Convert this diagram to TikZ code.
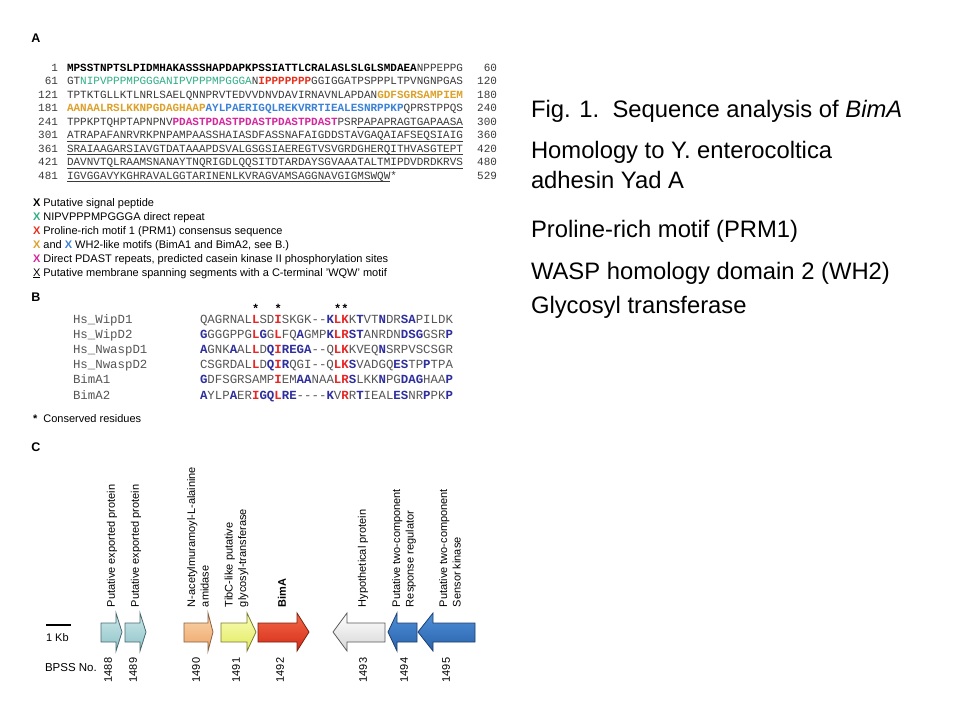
\documentclass[tikz,border=0pt]{standalone}
\usepackage{fontspec}
\setmainfont{Liberation Sans}
\newfontfamily\seqfont{Liberation Mono}
\definecolor{seqgray}{HTML}{3A3A3A}
\definecolor{seqgreen}{HTML}{2FAE86}
\definecolor{seqred}{HTML}{E8301C}
\definecolor{seqorange}{HTML}{DDA12A}
\definecolor{seqblue}{HTML}{3C82D6}
\definecolor{seqmag}{HTML}{D4279C}
\definecolor{alnblue}{HTML}{2E2E9E}
\definecolor{alnred}{HTML}{E82424}
\definecolor{alngray}{HTML}{555555}
\definecolor{gcyantop}{HTML}{CDE8EA}\definecolor{gcyanbot}{HTML}{8DC2C7}\definecolor{gcyanline}{HTML}{4A6A70}
\definecolor{gorgtop}{HTML}{FBD6AE}\definecolor{gorgbot}{HTML}{EDA466}\definecolor{gorgline}{HTML}{8A6040}
\definecolor{gyeltop}{HTML}{F9FDB8}\definecolor{gyelbot}{HTML}{E2EA5E}\definecolor{gyelline}{HTML}{7A7A30}
\definecolor{gredtop}{HTML}{F46A48}\definecolor{gredbot}{HTML}{D42A18}\definecolor{gredline}{HTML}{7A2010}
\definecolor{gwhtop}{HTML}{FFFFFF}\definecolor{gwhbot}{HTML}{D6D6D6}\definecolor{gwhline}{HTML}{5A5A5A}
\definecolor{gblutop}{HTML}{4E90DA}\definecolor{gblubot}{HTML}{2A62AA}\definecolor{gbluline}{HTML}{1E3E70}
\newcommand\seqG[1]{\textcolor{seqgreen}{#1}}
\newcommand\seqR[1]{\textcolor{seqred}{\bfseries #1}}
\newcommand\seqO[1]{\textcolor{seqorange}{\bfseries #1}}
\newcommand\seqB[1]{\textcolor{seqblue}{\bfseries #1}}
\newcommand\seqM[1]{\textcolor{seqmag}{\bfseries #1}}
\newcommand\alnB[1]{\textcolor{alnblue}{\bfseries #1}}
\newcommand\alnR[1]{\textcolor{alnred}{\bfseries #1}}
\newcommand\geneArrow[4]{\path[draw=#1line, top color=#1top, bottom color=#1bot, line width=0.8pt, line join=miter]
  (#2,623) -- (#3,623) -- (#3,613) -- (#4,632) -- (#3,651) -- (#3,642) -- (#2,642) -- cycle;}
\begin{document}
\begin{tikzpicture}[x=1pt,y=-1pt,
  every node/.style={inner sep=0pt, outer sep=0pt},
  panel/.style={font=\bfseries\fontsize{12.5}{12.5}\selectfont, anchor=center},
  seqline/.style={anchor=base west, font=\seqfont\fontsize{11}{11}\selectfont, text=seqgray},
  seqnum/.style={anchor=base east, font=\seqfont\fontsize{11}{11}\selectfont, text=seqgray},
  ulstyle/.style={draw=seqgray, line width=0.7pt},
  legend/.style={anchor=base west, font=\fontsize{11}{13}\selectfont},
  aln/.style={anchor=base west, font=\seqfont\fontsize{12.4}{12.4}\selectfont, text=alngray},
  starmark/.style={anchor=base, font=\bfseries\fontsize{12}{12}\selectfont},
  genelabel/.style={rotate=90, anchor=west, align=left, font=\fontsize{11}{13.5}\selectfont},
  genenum/.style={rotate=90, anchor=center, font=\fontsize{11}{11}\selectfont},
  righttext/.style={anchor=base west, font=\fontsize{23.8}{28}\selectfont}]
\useasboundingbox (0,0) rectangle (960,720);
\fill[white] (0,0) rectangle (960,720);

% ---------- Panel A ----------
\node[panel] (pA) at (36,38) {A};
\node[seqnum] (nl1) at (58,71.3) {1};
\node[seqnum] (nl2) at (58,84.8) {61};
\node[seqnum] (nl3) at (58,98.3) {121};
\node[seqnum] (nl4) at (58,111.8) {181};
\node[seqnum] (nl5) at (58,125.3) {241};
\node[seqnum] (nl6) at (58,138.8) {301};
\node[seqnum] (nl7) at (58,152.3) {361};
\node[seqnum] (nl8) at (58,165.8) {421};
\node[seqnum] (nl9) at (58,179.3) {481};
\node[seqline] (s1) at (67,71.3) {\textcolor{black}{\bfseries MPSSTNPTSLPIDMHAKASSSHAPDAPKPSSIATTLCRALASLSLGLSMDAEA}NPPEPPG};
\node[seqline] (s2) at (67,84.8) {GT\seqG{NIPVPPPMPGGGANIPVPPPMPGGGA}N\seqR{IPPPPPPP}GGIGGATPSPPPLTPVNGNPGAS};
\node[seqline] (s3) at (67,98.3) {TPTKTGLLKTLNRLSAELQNNPRVTEDVVDNVDAVIRNAVNLAPDAN\seqO{GDFSGRSAMPIEM}};
\node[seqline] (s4) at (67,111.8) {\seqO{AANAALRSLKKNPGDAGHAAP}\seqB{AYLPAERIGQLREKVRRTIEALESNRPPKP}QPRSTPPQS};
\node[seqline] (s5) at (67,125.3) {TPPKPTQHPTAPNPNV\seqM{PDASTPDASTPDASTPDASTPDAST}PSRPAPAPRAGTGAPAASA};
\node[seqline] (s6) at (67,138.8) {ATRAPAFANRVRKPNPAMPAASSHAIASDFASSNAFAIGDDSTAVGAQAIAFSEQSIAIG};
\node[seqline] (s7) at (67,152.3) {SRAIAAGARSIAVGTDATAAAPDSVALGSGSIAEREGTVSVGRDGHERQITHVASGTEPT};
\node[seqline] (s8) at (67,165.8) {DAVNVTQLRAAMSNANAYTNQRIGDLQQSITDTARDAYSGVAAATALTMIPDVDRDKRVS};
\node[seqline] (s9) at (67,179.3) {IGVGGAVYKGHRAVALGGTARINENLKVRAGVAMSAGGNAVGIGMSWQW*};
\node[seqnum] (nr1) at (497,71.3) {60};
\node[seqnum] (nr2) at (497,84.8) {120};
\node[seqnum] (nr3) at (497,98.3) {180};
\node[seqnum] (nr4) at (497,111.8) {240};
\node[seqnum] (nr5) at (497,125.3) {300};
\node[seqnum] (nr6) at (497,138.8) {360};
\node[seqnum] (nr7) at (497,152.3) {420};
\node[seqnum] (nr8) at (497,165.8) {480};
\node[seqnum] (nr9) at (497,179.3) {529};
\draw[ulstyle] (357.4,127.6) -- (463,127.6);
\draw[ulstyle] (67,141.1) -- (463,141.1);
\draw[ulstyle] (67,154.6) -- (463,154.6);
\draw[ulstyle] (67,168.1) -- (463,168.1);
\draw[ulstyle] (67,181.6) -- (390.4,181.6);

\node[legend] (l1) at (33,206) {\textbf{X} Putative signal peptide};
\node[legend] (l2) at (33,220) {\textcolor{seqgreen}{\textbf{X}} NIPVPPPMPGGGA direct repeat};
\node[legend] (l3) at (33,234) {\textcolor{seqred}{\textbf{X}} Proline-rich motif 1 (PRM1) consensus sequence};
\node[legend] (l4) at (33,248) {\textcolor{seqorange}{\textbf{X}} and \textcolor{seqblue}{\textbf{X}} WH2-like motifs (BimA1 and BimA2, see B.)};
\node[legend] (l5) at (33,262) {\textcolor{seqmag}{\textbf{X}} Direct PDAST repeats, predicted casein kinase II phosphorylation sites};
\node[legend] (l6) at (33,276) {\underline{X} Putative membrane spanning segments with a C-terminal 'WQW' motif};

% ---------- Panel B ----------
\node[panel] (pB) at (36,297) {B};
\node[starmark] (st1) at (255.8,312) {*};
\node[starmark] (st2) at (278.1,312) {*};
\node[starmark] (st3) at (337.6,312) {*};
\node[starmark] (st4) at (345.0,312) {*};
\node[aln] (n1) at (73,323) {Hs\_WipD1};
\node[aln] (n2) at (73,338.2) {Hs\_WipD2};
\node[aln] (n3) at (73,353.4) {Hs\_NwaspD1};
\node[aln] (n4) at (73,368.6) {Hs\_NwaspD2};
\node[aln] (n5) at (73,383.8) {BimA1};
\node[aln] (n6) at (73,399) {BimA2};
\node[aln] (a1) at (200,323) {QAGRNAL\alnR{L}SD\alnR{I}SKGK--\alnB{K}\alnR{LK}K\alnB{T}VT\alnB{N}DR\alnB{SA}PILDK};
\node[aln] (a2) at (200,338.2) {\alnB{G}GGGPPG\alnR{L}\alnB{G}G\alnR{L}FQ\alnB{A}GMP\alnB{K}\alnR{LR}\alnB{ST}ANRDN\alnB{DSG}GSR\alnB{P}};
\node[aln] (a3) at (200,353.4) {\alnB{A}GNK\alnB{A}AL\alnR{L}D\alnB{Q}\alnR{I}\alnB{REGA}--Q\alnR{LK}KVEQ\alnB{N}SRPVSCSGR};
\node[aln] (a4) at (200,368.6) {CSGRDAL\alnR{L}D\alnB{Q}\alnR{I}\alnB{R}QGI--Q\alnR{LK}\alnB{S}VADGQ\alnB{ES}TP\alnB{P}TPA};
\node[aln] (a5) at (200,383.8) {\alnB{G}DFSGRSAMP\alnR{I}EM\alnB{AA}NAA\alnR{LR}\alnB{S}LKK\alnB{N}PG\alnB{DAG}HAA\alnB{P}};
\node[aln] (a6) at (200,399) {\alnB{A}YLP\alnB{A}ER\alnR{I}\alnB{GQ}\alnR{L}\alnB{RE}----\alnB{K}V\alnR{R}R\alnB{T}IEAL\alnB{ES}NR\alnB{P}PK\alnB{P}};
\node[legend] (cons) at (33,422) {\textbf{*} \ Conserved residues};

% ---------- Panel C ----------
\node[panel] (pC) at (36,447) {C};
\geneArrow{gcyan}{101}{116}{122}
\geneArrow{gcyan}{125}{140}{146}
\geneArrow{gorg}{184}{208}{213}
\geneArrow{gyel}{221}{247}{256}
\geneArrow{gred}{258}{297}{309}
\geneArrow{gwh}{385}{347}{333}
\geneArrow{gblu}{417}{397}{388}
\geneArrow{gblu}{475}{433}{418}
\draw[line width=2.5pt] (46,625) coordinate (kb1) -- (71,625) coordinate (kb2);
\node[anchor=base west, font=\fontsize{11}{11}\selectfont] (kb) at (46,641) {1 Kb};
\node[anchor=base west, font=\fontsize{11.5}{11.5}\selectfont] (bpss) at (45,671) {BPSS No.};
\node[genelabel] (g1) at (112,607) {Putative exported protein};
\node[genelabel] (g2) at (136,607) {Putative exported protein};
\node[genelabel] (g3) at (198,607) {N-acetylmuramoyl-L-alainine\\amidase};
\node[genelabel] (g4) at (236.5,607) {TibC-like putative\\glycosyl-transferase};
\node[genelabel, font=\bfseries\fontsize{11}{13.5}\selectfont] (g5) at (282,607) {BimA};
\node[genelabel] (g6) at (363,607) {Hypothetical protein};
\node[genelabel] (g7) at (404,607) {Putative two-component\\Response regulator};
\node[genelabel] (g8) at (450,607) {Putative two-component\\Sensor kinase};
\node[genenum] (b1) at (108,670) {1488};
\node[genenum] (b2) at (133,670) {1489};
\node[genenum] (b3) at (196,670) {1490};
\node[genenum] (b4) at (236,670) {1491};
\node[genenum] (b5) at (280,670) {1492};
\node[genenum] (b6) at (363,670) {1493};
\node[genenum] (b7) at (404,670) {1494};
\node[genenum] (b8) at (446,670) {1495};

% ---------- Right text ----------
\node[righttext] (t1) at (531,117) {Fig. 1.\ \ Sequence analysis of \textit{BimA}};
\node[righttext] (t2) at (531,158) {Homology to Y. enterocoltica};
\node[righttext] (t3) at (531,188) {adhesin Yad A};
\node[righttext] (t4) at (531,237) {Proline-rich motif (PRM1)};
\node[righttext] (t5) at (531,279) {WASP homology domain 2 (WH2)};
\node[righttext] (t6) at (531,313) {Glycosyl transferase};
\end{tikzpicture}
\end{document}
